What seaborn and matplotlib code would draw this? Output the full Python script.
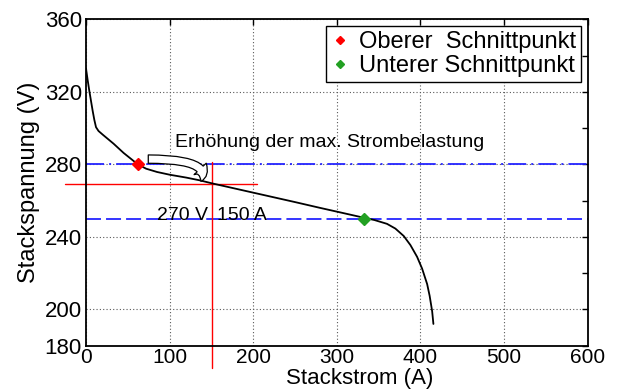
import matplotlib
matplotlib.use("Agg")
import matplotlib.pyplot as plt
import seaborn as sns
import pandas as pd
from matplotlib.patches import FancyArrowPatch

# polarization curve
strom = [0, 2, 4, 6, 8, 10, 12, 15, 20, 33, 45, 55, 62, 72, 85, 100, 120, 136,
         151, 200, 250, 280, 310, 332, 345, 360, 370, 380, 388, 396, 402, 408,
         411, 414, 415.5]
spannung = [333, 326.5, 320.5, 315, 309.5, 304.5, 300.5, 298.4, 296.4, 291.4,
            286.3, 282.6, 280, 277.6, 275.8, 274.3, 272.7, 271.2, 269.5, 264.4,
            259.2, 256, 252.9, 250.6, 249.3, 247.2, 244.6, 240.5, 235.5, 229,
            222.5, 214, 207.5, 199, 192]

oben_punkt = (62, 280)
unten_punkt = (332, 250)
arbeitspunkt = (151, 269.3)
legend_labels = ["Oberer  Schnittpunkt", "Unterer Schnittpunkt"]
xticks = [0, 100, 200, 300, 400, 500, 600]
yticks = [180, 200, 240, 280, 320, 360]
yticks_minor = [220, 260, 300, 340]

sns.set_theme(style="white")
plt.rcParams["font.family"] = ["Liberation Sans", "DejaVu Sans"]
plt.rcParams.update({"text.color": "black", "axes.labelcolor": "black",
                     "xtick.color": "black", "ytick.color": "black"})

df = pd.DataFrame({"Stackstrom": strom, "Stackspannung": spannung})

fig = plt.figure(figsize=(6.19, 3.89), dpi=100)
ax = fig.add_axes([0.1389, 0.1113, 0.8105, 0.8391])

ax.set_xlim(0, 600)
ax.set_ylim(180, 360)
ax.set_xticks(xticks)
ax.set_yticks(yticks)
ax.set_yticks(yticks_minor, minor=True)
ax.grid(True, which="major", color="0.35", linestyle=(0, (1, 2)), linewidth=0.8)

# blue limit lines
ax.axhline(oben_punkt[1], color="#2424ff", lw=1.3, ls=(0, (10, 2.8, 1.1, 2.8)))
ax.axhline(unten_punkt[1], color="#2424ff", lw=1.3, ls=(0, (8.3, 2.8)))

# red cross at the operating point
ax.plot([-25, 204], [arbeitspunkt[1]] * 2, color="red", lw=1, clip_on=False)
ax.plot([arbeitspunkt[0]] * 2, [167.5, 281.3], color="red", lw=1, clip_on=False)

sns.lineplot(data=df, x="Stackstrom", y="Stackspannung", color="black",
             lw=1.3, sort=False, ax=ax, zorder=3)

ax.plot(*oben_punkt, "D", color="red", ms=6, zorder=4, label=legend_labels[0])
ax.plot(*unten_punkt, "D", color="#22a022", ms=6, zorder=4, label=legend_labels[1])

ax.text(106.5, 289.6, "Erhöhung der max. Strombelastung", fontsize=14, va="baseline")
ax.text(146.5, 249.3, "270 V", fontsize=14, va="baseline", ha="right")
ax.text(156.3, 249.3, "150 A", fontsize=14, va="baseline", ha="left")

pfeil = FancyArrowPatch((74.5, 282.9), (137.6, 270.6),
                        connectionstyle="angle3,angleA=0,angleB=63",
                        arrowstyle="simple,head_length=9,head_width=12,tail_width=6",
                        mutation_scale=1, fc="white", ec="black", lw=0.9,
                        shrinkA=0, shrinkB=0, zorder=5)
ax.add_patch(pfeil)

ax.set_xlabel("Stackstrom (A)", fontsize=16)
ax.set_ylabel("Stackspannung (V)", fontsize=17, labelpad=3)
ax.xaxis.label.set_va("baseline")
ax.xaxis.set_label_coords(0.546, -0.117)

ax.tick_params(which="both", direction="in", top=True, right=True, length=4,
               width=1, color="black")
ax.tick_params(axis="x", pad=1.5, labelsize=15)
ax.tick_params(axis="y", pad=3, labelsize=16)
for s in ax.spines.values():
    s.set_color("black")
    s.set_linewidth(1.3)

leg = ax.legend(loc="upper right", fontsize=17, frameon=True, fancybox=False,
                framealpha=1, edgecolor="black", handlelength=0.8,
                handletextpad=0.4, borderpad=0.2, labelspacing=0.1,
                borderaxespad=0.3, markerscale=0.75)
leg.get_frame().set_linewidth(1)

fig.savefig("out.png", dpi=100)
